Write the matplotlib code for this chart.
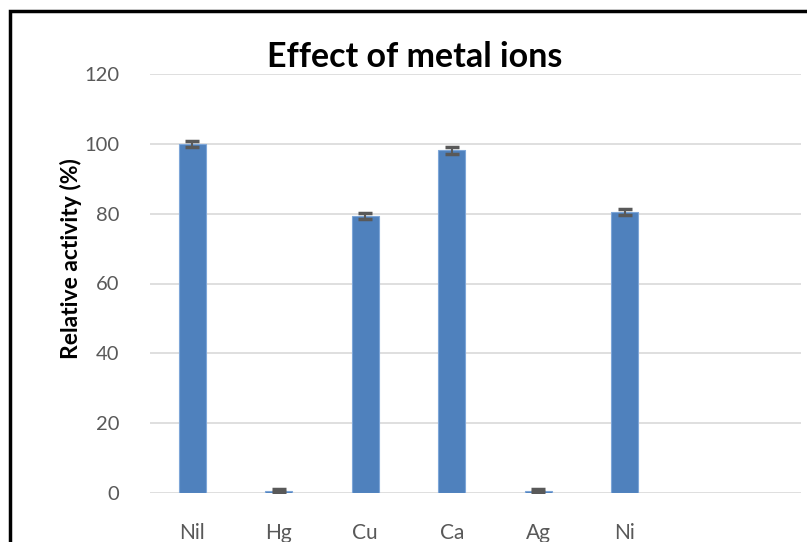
# import packages
import numpy as np
import matplotlib.pyplot as plt
from matplotlib.patches import Rectangle

# data
ions = ['Nil', 'Hg', 'Cu', 'Ca', 'Ag', 'Ni']
activity = [100, 0.7, 79.4, 98.1, 0.7, 80.5]
err = [0.8, 0.4, 0.9, 0.9, 0.4, 0.9]
y_ticks = [0, 20, 40, 60, 80, 100, 120]

# plot setting
plt.rcParams['font.family'] = ['Lato', 'DejaVu Sans']
bar_color = '#4f81bd'
grey = '#595959'
grid_col = '#d9d9d9'

fig = plt.figure(figsize=(8.07, 5.42), dpi=100)
ax = fig.add_axes([150 / 807, 1 - 493 / 542, 651 / 807, (493 - 74) / 542])

x_pos = np.arange(len(ions))
ax.bar(x_pos, activity, 0.31, color=bar_color, edgecolor='#7ea6d8', linewidth=0.8, zorder=3)
ax.errorbar(x_pos, activity, yerr=err, fmt='none', ecolor=grey, elinewidth=1.5,
            capsize=5, capthick=2.5, zorder=4)

ax.set_xlim(-0.49, 7.04)
ax.set_ylim(0, 120)
ax.set_yticks(y_ticks)
ax.set_yticklabels([str(v) for v in y_ticks], fontsize=14.5, color=grey)
ax.tick_params(axis='y', length=0, pad=22)
ax.set_xticks([])
ax.yaxis.grid(True, color=grid_col, linewidth=1.2, zorder=0)
for s in ax.spines.values():
    s.set_visible(False)

# category labels (cut off at bottom like the original)
for xp, name in zip(x_pos, ions):
    ax.text(xp, -11.5, name, ha='center', va='center', fontsize=15, color=grey,
            transform=ax.transData, clip_on=False)

ax.set_ylabel('Relative activity (%)', fontsize=16.5, fontweight='bold', labelpad=0)
ax.yaxis.set_label_coords(-0.105, 0.56)
fig.text(415 / 807, 1 - 57 / 542, 'Effect of metal ions', ha='center', va='center',
         fontsize=24.5, fontweight='bold')

# chart border
fig.patches.append(Rectangle((10 / 807, -0.1), 1.2, 1 - 11 / 542 + 0.1, transform=fig.transFigure,
                             fill=False, edgecolor='black', linewidth=2.5))

plt.savefig('out.png', dpi=100)
